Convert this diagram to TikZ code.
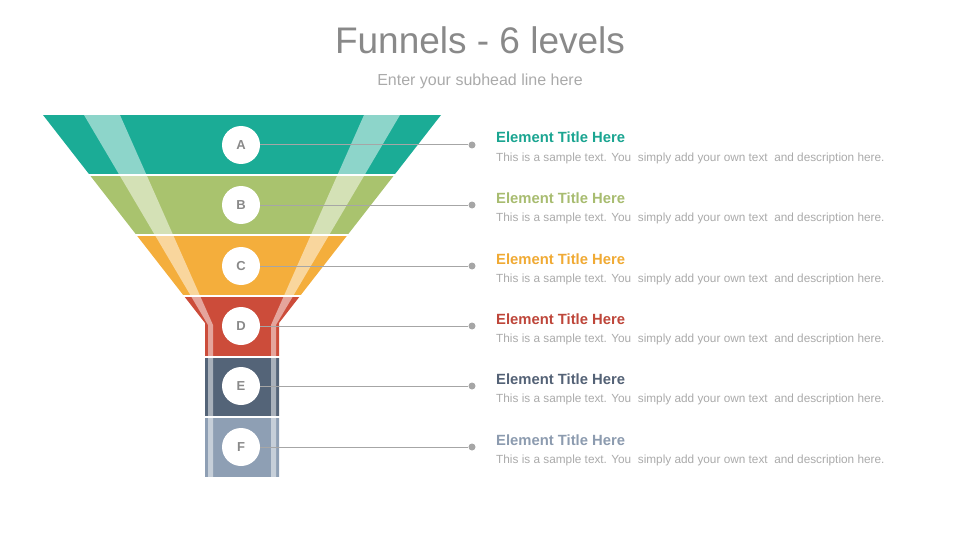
\documentclass[tikz,border=0pt]{standalone}
\usepackage{fontspec}
\setmainfont{Liberation Sans}
\usetikzlibrary{positioning}
\definecolor{teal1}{RGB}{27,172,150}
\definecolor{green1}{RGB}{169,195,110}
\definecolor{orange1}{RGB}{244,174,60}
\definecolor{red1}{RGB}{204,76,58}
\definecolor{slate1}{RGB}{84,100,120}
\definecolor{slate2}{RGB}{142,159,180}
\definecolor{tealtxt}{RGB}{27,165,145}
\definecolor{greentxt}{RGB}{168,188,112}
\definecolor{orangetxt}{RGB}{240,170,52}
\definecolor{redtxt}{RGB}{190,70,58}
\definecolor{slatetxt}{RGB}{84,98,118}
\definecolor{slate2txt}{RGB}{140,155,175}
\definecolor{headgray}{RGB}{137,137,137}
\definecolor{linegray}{RGB}{166,166,166}
\definecolor{desctxt}{RGB}{170,170,170}
\newcommand{\sampletext}{This is a sample text. You\ \ simply add your own text\ \ and description here.}
\tikzset{
  badge/.style  ={circle, fill=white, minimum size=38pt, inner sep=0pt,
                  text=headgray, font=\bfseries\fontsize{13}{13}\selectfont},
  pin/.style    ={circle, fill=linegray, minimum size=7pt, inner sep=0pt},
  leader/.style ={linegray, line width=1pt},
  elttitle/.style={anchor=base west, inner sep=0pt,
                  font=\bfseries\fontsize{14.8}{16}\selectfont},
  eltdesc/.style={anchor=base west, inner sep=0pt, text=desctxt,
                  font=\fontsize{11.8}{13}\selectfont},
  shine/.style  ={white, opacity=0.5},
}

\begin{document}
\begin{tikzpicture}[x=1pt, y=-1pt]
  \useasboundingbox (0,0) rectangle (960,540);

  % heading
  \node[anchor=base, inner sep=0pt, text=headgray, font=\fontsize{37}{40}\selectfont]
    (head) at (480,54) {Funnels - 6 levels};
  \node[anchor=base, inner sep=0pt, text=desctxt, font=\fontsize{16}{18}\selectfont]
    (subhead) at (480,86) {Enter your subhead line here};

  % funnel body, cut into bands
  \begin{scope}
    \clip (43,115) -- (441,115) -- (279,323) -- (279,477) -- (205,477) -- (205,323) -- cycle;
    \fill[teal1]   (30,115) rectangle (460,174);
    \fill[green1]  (30,176) rectangle (460,234);
    \fill[orange1] (30,236) rectangle (460,295);
    \fill[red1]    (30,297) rectangle (460,356);
    \fill[slate1]  (30,358) rectangle (460,416);
    \fill[slate2]  (30,418) rectangle (460,477);
    % light stripes
    \fill[shine] (84,115) -- (120,115) -- (213,325) -- (213,477) -- (208,477) -- (208,325) -- cycle;
    \fill[shine] (400,115) -- (364,115) -- (271,325) -- (271,477) -- (276,477) -- (276,325) -- cycle;
  \end{scope}

  % badges and pins
  \node[badge] (cA) at (241,145) {A};
  \node[badge] (cB) at (241,205) {B};
  \node[badge] (cC) at (241,266) {C};
  \node[badge] (cD) at (241,326) {D};
  \node[badge] (cE) at (241,386) {E};
  \node[badge] (cF) at (241,447) {F};
  \node[pin] (dA) at (472,145) {};
  \node[pin] (dB) at (472,205) {};
  \node[pin] (dC) at (472,266) {};
  \node[pin] (dD) at (472,326) {};
  \node[pin] (dE) at (472,386) {};
  \node[pin] (dF) at (472,447) {};
  \draw[leader] (cA) -- (dA);
  \draw[leader] (cB) -- (dB);
  \draw[leader] (cC) -- (dC);
  \draw[leader] (cD) -- (dD);
  \draw[leader] (cE) -- (dE);
  \draw[leader] (cF) -- (dF);

  % element texts
  \node[elttitle, text=tealtxt]   (tA) at (496,143) {Element Title Here};
  \node[elttitle, text=greentxt]  (tB) at (496,203) {Element Title Here};
  \node[elttitle, text=orangetxt] (tC) at (496,264) {Element Title Here};
  \node[elttitle, text=redtxt]    (tD) at (496,324) {Element Title Here};
  \node[elttitle, text=slatetxt]  (tE) at (496,384) {Element Title Here};
  \node[elttitle, text=slate2txt] (tF) at (496,445) {Element Title Here};
  \node[eltdesc] (sA) at (496,161) {\sampletext};
  \node[eltdesc] (sB) at (496,221) {\sampletext};
  \node[eltdesc] (sC) at (496,282) {\sampletext};
  \node[eltdesc] (sD) at (496,342) {\sampletext};
  \node[eltdesc] (sE) at (496,402) {\sampletext};
  \node[eltdesc] (sF) at (496,463) {\sampletext};
\end{tikzpicture}
\end{document}
